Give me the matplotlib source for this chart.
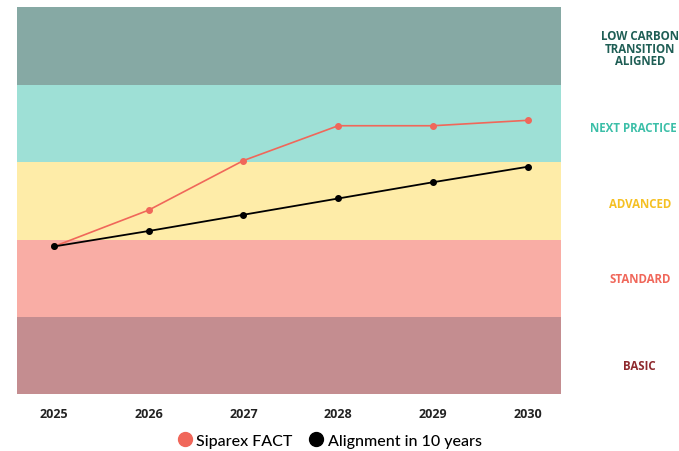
import matplotlib.pyplot as plt
from matplotlib.lines import Line2D

years = ['2025', '2026', '2027', '2028', '2029', '2030']
siparex = [1.91, 2.38, 3.02, 3.47, 3.47, 3.54]
alignment = [1.91, 2.11, 2.32, 2.53, 2.74, 2.94]

levels = ['BASIC', 'STANDARD', 'ADVANCED', 'NEXT PRACTICE', 'LOW CARBON\nTRANSITION\nALIGNED']
band_colors = ['#c48d90', '#f9ada5', '#feeca8', '#9ee0d6', '#86a9a4']
label_colors = ['#8e2a2e', '#f0675a', '#f5c022', '#3cbfa8', '#1f5e55']
label_y = [0.37, 1.49, 2.46, 3.45, 4.47]

fig = plt.figure(figsize=(6.79, 4.52), dpi=100)
ax = fig.add_axes([0.025, 0.1254, 0.801, 0.8562])

x = list(range(len(years)))
for i, c in enumerate(band_colors):
    ax.axhspan(i, i + 1, color=c, lw=0, zorder=0)
    # the long label is pulled in so it stays inside the figure
    if levels[i] == 'NEXT PRACTICE':
        xpos, ha = 1.2135, 'right'
    else:
        xpos, ha = 1.145, 'center'
    ax.text(xpos, label_y[i], levels[i], transform=ax.get_yaxis_transform(),
            ha=ha, va='center', color=label_colors[i], fontsize=8.3,
            fontweight='bold', family='Open Sans', linespacing=0.95, clip_on=False)

ax.plot(x, siparex, color='#f0675a', lw=1.2, marker='o', ms=4, zorder=3)
ax.plot(x, alignment, color='black', lw=1.3, marker='o', ms=4, zorder=4)

ax.set_xlim(-0.39, 5.35)
ax.set_ylim(0, 5)
ax.set_xticks(x)
ax.set_xticklabels(years, fontsize=9, fontweight='bold', family='Open Sans', color='#222222')
ax.set_yticks([])
ax.tick_params(axis='x', length=0, pad=9)
for s in ax.spines.values():
    s.set_visible(False)

handles = [
    Line2D([], [], ls='', marker='o', ms=10, color='#f0675a', label='Siparex FACT'),
    Line2D([], [], ls='', marker='o', ms=10, color='black', label='Alignment in 10 years'),
]
fig.legend(handles=handles, loc='lower center', bbox_to_anchor=(0.485, -0.025), ncol=2,
           frameon=False, prop={'family': 'Lato', 'size': 11.5, 'weight': 'medium'},
           handletextpad=0.2, columnspacing=1.0, handlelength=1.0)

fig.savefig('out.png', dpi=100)
